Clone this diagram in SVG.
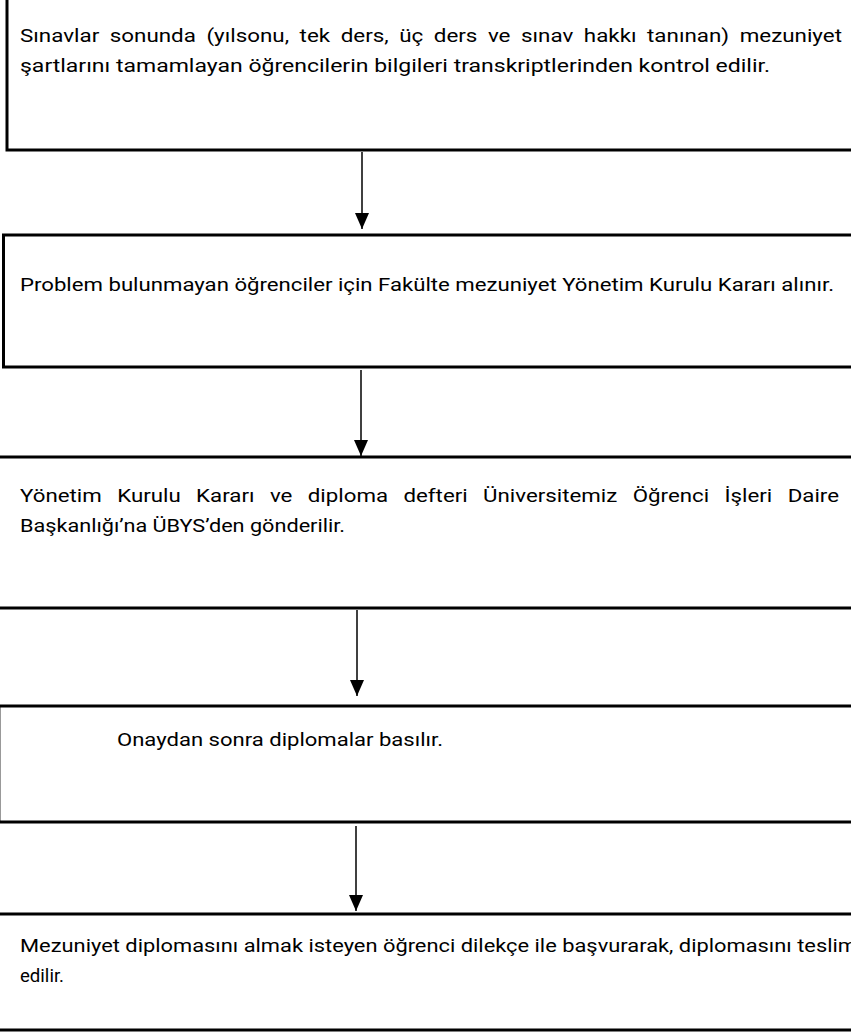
<svg xmlns="http://www.w3.org/2000/svg" width="851" height="1032" viewBox="0 0 851 1032">
<defs>
<style>
.t{font-family:Roboto,"Liberation Sans",sans-serif;font-size:18px;fill:#000}
.box{fill:#fff;stroke:#000;stroke-width:3}
.ln{fill:none;stroke:#000;stroke-width:3}
.c{stroke:#000;stroke-width:1.5;fill:none}
</style>
<marker id="ah" markerWidth="16" markerHeight="14" refX="16" refY="7" orient="auto" markerUnits="userSpaceOnUse" viewBox="0 0 16 14">
<path d="M0,0 L16,7 L0,14 Z" fill="#000"/>
</marker>
</defs>
<rect width="851" height="1032" fill="#fff"/>
<g id="node1">
<rect class="box" x="7" y="-3" width="860" height="153"/>
<text class="t" x="20" y="42" textLength="822" lengthAdjust="spacingAndGlyphs" word-spacing="4">Sınavlar sonunda (yılsonu, tek ders, üç ders ve sınav hakkı tanınan) mezuniyet</text>
<text class="t" x="20" y="72" textLength="750" lengthAdjust="spacingAndGlyphs">şartlarını tamamlayan öğrencilerin bilgileri transkriptlerinden kontrol edilir.</text>
</g>
<g id="node2">
<rect class="box" x="3.5" y="235" width="860" height="132" stroke-width="2.5"/>
<text class="t" x="20" y="291" textLength="814" lengthAdjust="spacingAndGlyphs">Problem bulunmayan öğrenciler için Fakülte mezuniyet Yönetim Kurulu Kararı alınır.</text>
</g>
<g id="node3">
<line class="ln" x1="0" y1="457" x2="851" y2="457"/>
<line class="ln" x1="0" y1="608" x2="851" y2="608"/>
<text class="t" x="20" y="502" textLength="819" lengthAdjust="spacingAndGlyphs" word-spacing="8">Yönetim Kurulu Kararı ve diploma defteri Üniversitemiz Öğrenci İşleri Daire</text>
<text class="t" x="20" y="532" textLength="325" lengthAdjust="spacingAndGlyphs">Başkanlığı’na ÜBYS’den gönderilir.</text>
</g>
<g id="node4">
<line x1="0.5" y1="706" x2="0.5" y2="822" stroke="#999" stroke-width="1"/>
<line class="ln" x1="0" y1="706" x2="851" y2="706"/>
<line class="ln" x1="0" y1="822" x2="851" y2="822"/>
<text class="t" x="117" y="746" textLength="326" lengthAdjust="spacingAndGlyphs">Onaydan sonra diplomalar basılır.</text>
</g>
<g id="node5">
<line class="ln" x1="0" y1="914" x2="851" y2="914"/>
<line class="ln" x1="0" y1="1030" x2="851" y2="1030"/>
<text class="t" x="20" y="952" textLength="837" lengthAdjust="spacingAndGlyphs">Mezuniyet diplomasını almak isteyen öğrenci dilekçe ile başvurarak, diplomasını teslim</text>
<text class="t" x="20" y="982" textLength="44" lengthAdjust="spacingAndGlyphs">edilir.</text>
</g>
<g id="connectors">
<line class="c" x1="362" y1="152" x2="362" y2="229" marker-end="url(#ah)"/>
<line class="c" x1="361" y1="370" x2="361" y2="456" marker-end="url(#ah)"/>
<line class="c" x1="357" y1="610" x2="357" y2="696" marker-end="url(#ah)"/>
<line class="c" x1="356" y1="826" x2="356" y2="911" marker-end="url(#ah)"/>
</g>
</svg>
